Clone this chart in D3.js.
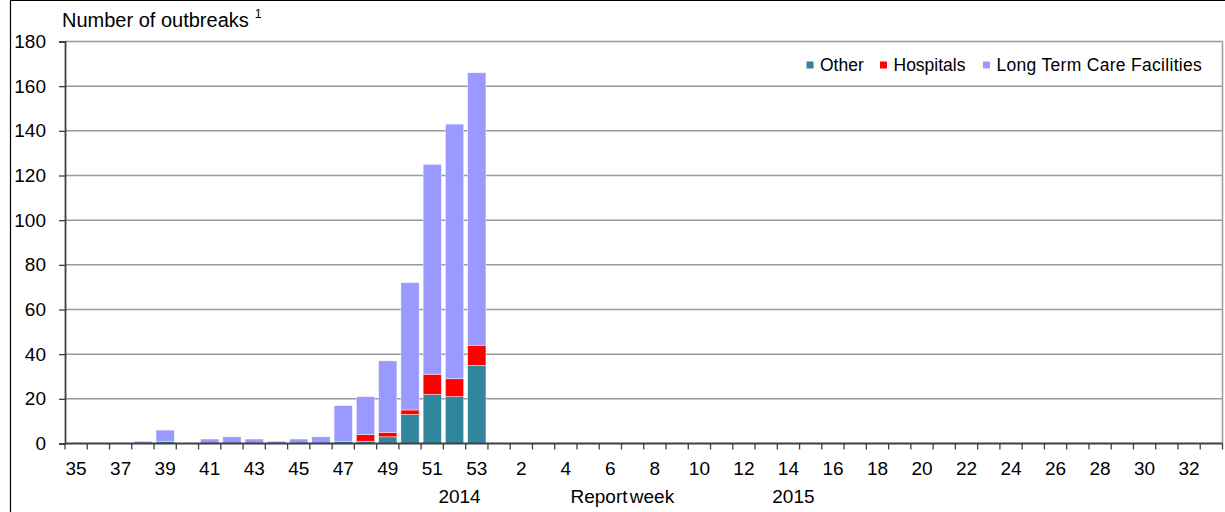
<!DOCTYPE html>
<html>
<head>
<meta charset="utf-8">
<script src="https://cdn.jsdelivr.net/npm/d3@7"></script>
<style>
  body { margin: 0; background: #fff; }
  svg { font-family: "Liberation Sans", Arial, sans-serif; }
</style>
</head>
<body>
<svg id="chart" width="1225" height="512"></svg>
<script>
// report weeks: 35-53 of 2014, then 1-33 of 2015
const weeks2014 = d3.range(35, 54);
const weeks2015 = d3.range(1, 34);

// outbreaks per week, only weeks with data listed (2014)
const dataWeeks = [38, 39, 40, 41, 42, 43, 44, 45, 46, 47, 48, 49, 50, 51, 52, 53];
const other     = [0, 1, 0, 0, 0, 0, 0, 0, 0, 1, 1, 3, 13, 22, 21, 35];
const hospitals = [0, 0, 0, 0, 0, 0, 0, 0, 0, 0, 3, 2, 2, 9, 8, 9];
const ltcf      = [1, 5, 0, 2, 3, 2, 1, 2, 3, 16, 17, 32, 57, 94, 114, 122];

const seriesNames = ["Other", "Hospitals", "Long Term Care Facilities"];
const colors = ["#31859c", "#ff0000", "#9999ff"];
const yTicks = [0, 20, 40, 60, 80, 100, 120, 140, 160, 180];

const categories = weeks2014.map(w => "2014-" + w).concat(weeks2015.map(w => "2015-" + w));

const rows = dataWeeks.map((w, i) => ({
  key: "2014-" + w,
  "Other": other[i],
  "Hospitals": hospitals[i],
  "Long Term Care Facilities": ltcf[i]
}));

const svg = d3.select("#chart");
const margin = {left: 65, right: 2.5, top: 41.5, bottom: 68.5};
const W = 1225, H = 512;

// outer frame
svg.append("path")
    .attr("d", `M10.5,512 V0.5 H1225`)
    .attr("fill", "none")
    .attr("stroke", "#000")
    .attr("stroke-width", 1.2);

const x = d3.scaleBand()
    .domain(categories)
    .range([margin.left, W - margin.right])
    .paddingInner(0.18)
    .paddingOuter(0.09);

const xt = d3.scaleBand()
    .domain(categories)
    .range([margin.left, W - margin.right]);

const y = d3.scaleLinear()
    .domain([0, 180])
    .range([H - margin.bottom, margin.top]);

// gridlines
svg.append("g")
  .selectAll("line")
  .data(yTicks.filter(d => d > 0))
  .join("line")
    .attr("x1", margin.left)
    .attr("x2", W - margin.right)
    .attr("y1", d => y(d))
    .attr("y2", d => y(d))
    .attr("stroke", "#999")
    .attr("stroke-width", 1.5);

// right border of plot area
svg.append("line")
    .attr("x1", W - margin.right).attr("x2", W - margin.right)
    .attr("y1", y(180)).attr("y2", y(0))
    .attr("stroke", "#999")
    .attr("stroke-width", 1.5);

// stacked bars
const stack = d3.stack().keys(seriesNames);
const stacked = stack(rows);

svg.append("g")
  .selectAll("g")
  .data(stacked)
  .join("g")
    .attr("fill", (d, i) => colors[i])
  .selectAll("rect")
  .data(d => d.filter(p => p[1] > p[0]))
  .join("rect")
    .attr("x", d => x(d.data.key))
    .attr("width", x.bandwidth())
    .attr("y", d => y(d[1]))
    .attr("height", d => y(d[0]) - y(d[1]))
    .attr("stroke", "#fff")
    .attr("stroke-opacity", 0.6)
    .attr("stroke-width", 0.7);

// y axis
const yAxis = svg.append("g")
    .attr("transform", `translate(${margin.left},0)`)
    .call(d3.axisLeft(y).tickValues(yTicks).tickSize(6).tickPadding(13));
yAxis.select(".domain").attr("stroke", "#404040").attr("stroke-width", 1.8);
yAxis.selectAll(".tick line").attr("stroke", "#404040").attr("stroke-width", 1.3);
yAxis.selectAll("text")
    .attr("font-size", 19)
    .attr("font-family", "Liberation Sans, Arial, sans-serif")
    .attr("fill", "#000");

// x axis: ticks at band boundaries, labels every other week
const xAxisG = svg.append("g")
    .attr("transform", `translate(0,${y(0)})`);
xAxisG.append("line")
    .attr("x1", margin.left).attr("x2", W - margin.right)
    .attr("stroke", "#404040").attr("stroke-width", 1.8);
xAxisG.selectAll(".tk")
  .data(categories.concat(["end"]))
  .join("line")
    .attr("class", "tk")
    .attr("x1", d => d === "end" ? W - margin.right : xt(d))
    .attr("x2", d => d === "end" ? W - margin.right : xt(d))
    .attr("y1", 0).attr("y2", 6)
    .attr("stroke", "#404040").attr("stroke-width", 1.3);
xAxisG.selectAll(".lbl")
  .data(categories.filter((d, i) => i % 2 === 0 && i < 51))
  .join("text")
    .attr("class", "lbl")
    .attr("x", d => xt(d) + xt.bandwidth() / 2)
    .attr("y", 31)
    .attr("text-anchor", "middle")
    .attr("font-size", 19)
    .text(d => d.split("-")[1]);

// year and axis titles
const yearRow = 503;
svg.append("text")
    .attr("x", xt("2014-52") + xt.bandwidth() / 2 + 5)
    .attr("y", yearRow)
    .attr("text-anchor", "middle")
    .attr("font-size", 19)
    .text("2014");
svg.append("text")
    .attr("x", xt("2015-6") + xt.bandwidth() / 2 + 12)
    .attr("y", yearRow)
    .attr("text-anchor", "middle")
    .attr("font-size", 19)
    .attr("word-spacing", -3)
    .text("Report week");
svg.append("text")
    .attr("x", xt("2015-14") + xt.bandwidth() / 2 + 5)
    .attr("y", yearRow)
    .attr("text-anchor", "middle")
    .attr("font-size", 19)
    .text("2015");

const title = svg.append("text")
    .attr("x", 62)
    .attr("y", 27)
    .attr("font-size", 20);
title.append("tspan").text("Number of outbreaks");
title.append("tspan").attr("dx", 6).attr("dy", -9).attr("font-size", 12.5).text("1");

// legend
const legendX = [806.5, 880, 983];
const legend = svg.append("g")
  .selectAll("g")
  .data(seriesNames)
  .join("g")
    .attr("transform", (d, i) => `translate(${legendX[i]},0)`);
legend.append("rect")
    .attr("x", 0).attr("y", 61.5)
    .attr("width", 7).attr("height", 7)
    .attr("fill", (d, i) => colors[i]);
legend.append("text")
    .attr("x", 13.5)
    .attr("y", 71)
    .attr("font-size", 17.5)
    .attr("letter-spacing", (d, i) => i === 2 ? 0.3 : 0)
    .text(d => d);
</script>
</body>
</html>
